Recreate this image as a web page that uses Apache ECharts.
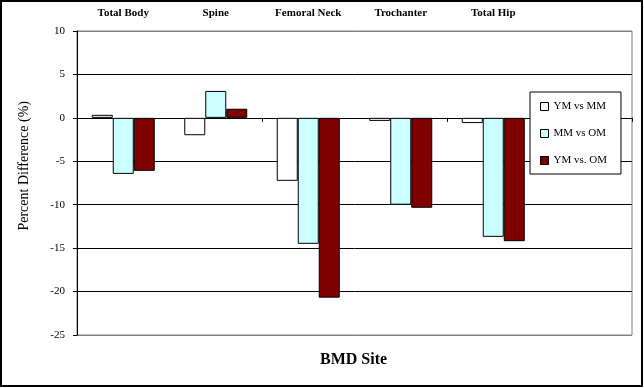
<!DOCTYPE html>
<html>
<head>
<meta charset="utf-8">
<script src="https://cdn.jsdelivr.net/npm/echarts@6/dist/echarts.min.js"></script>
<style>
html,body{margin:0;padding:0;background:#fff;}
#chart{width:644px;height:388px;}
</style>
</head>
<body>
<div id="chart"></div>
<script>
var categories = ['Total Body', 'Spine', 'Femoral Neck', 'Trochanter', 'Total Hip', ''];
var ymVsMm = [0.35, -2.0, -7.25, -0.35, -0.6, null];
var mmVsOm = [-6.45, 3.1, -14.5, -10.0, -13.7, null];
var ymVsOm = [-6.1, 1.05, -20.7, -10.35, -14.2, null];
var seriesNames = ['YM vs MM', 'MM vs OM', 'YM vs. OM'];
var yTicks = {min: -25, max: 10, step: 5};

var serif = 'Liberation Serif, Times New Roman, serif';
var chart = echarts.init(document.getElementById('chart'), null, {renderer: 'canvas'});

function barSeries(name, data, color) {
  return {
    name: name, type: 'bar', data: data, xAxisIndex: 0,
    barWidth: 21, barGap: '0%',
    itemStyle: {color: color, borderColor: '#000', borderWidth: 1},
    emphasis: {disabled: true}
  };
}

chart.setOption({
  animation: false,
  backgroundColor: '#fff',
  grid: {left: 77, right: 12, top: 31, bottom: 53, show: true, borderColor: '#808080', borderWidth: 1, backgroundColor: 'transparent'},
  legend: {
    orient: 'vertical', left: 530, top: 92,
    data: seriesNames,
    icon: 'rect',
    itemWidth: 8, itemHeight: 8, itemGap: 16,
    padding: [9, 14, 8, 10],
    borderColor: '#000', borderWidth: 1, backgroundColor: '#fff',
    textStyle: {fontFamily: serif, fontSize: 11, color: '#000'},
    selectedMode: false, z: 10,
    itemStyle: {borderColor: '#000', borderWidth: 1}
  },
  title: {
    text: 'BMD Site', left: 315, top: 347,
    textStyle: {fontFamily: serif, fontSize: 16, fontWeight: 'bold', color: '#000'}
  },
  xAxis: [{
    type: 'category', data: categories, position: 'bottom',
    axisLine: {onZero: true, lineStyle: {color: '#000', width: 1}},
    axisTick: {show: true, length: 4, lineStyle: {color: '#000'}},
    axisLabel: {show: false},
    splitLine: {show: false}
  }, {
    type: 'category', data: categories, position: 'top',
    axisLine: {show: false}, axisTick: {show: false},
    axisLabel: {margin: 12, fontFamily: serif, fontSize: 11, fontWeight: 'bold', color: '#000'},
    splitLine: {show: false}
  }],
  yAxis: {
    type: 'value', min: yTicks.min, max: yTicks.max, interval: yTicks.step,
    axisLine: {show: true, lineStyle: {color: '#000'}},
    axisTick: {show: true, length: 4, lineStyle: {color: '#000'}},
    axisLabel: {margin: 12, fontFamily: serif, fontSize: 11, color: '#000'},
    splitLine: {show: true, lineStyle: {color: ['#808080', '#000', '#000', '#000', '#000', '#000', '#000', '#808080'], width: 1}}
  },
  graphic: [
    {type: 'rect', shape: {x: 1, y: 1, width: 641, height: 385}, style: {fill: null, stroke: '#000', lineWidth: 2}, silent: true, z: 100},
    {type: 'text', left: 17, top: 101, rotation: Math.PI / 2, style: {text: 'Percent Difference (%)', font: '14px ' + serif, fill: '#000'}}
  ],
  series: [
    barSeries(seriesNames[0], ymVsMm, '#ffffff'),
    barSeries(seriesNames[1], mmVsOm, '#ccffff'),
    barSeries(seriesNames[2], ymVsOm, '#800000')
  ]
});
</script>
</body>
</html>
